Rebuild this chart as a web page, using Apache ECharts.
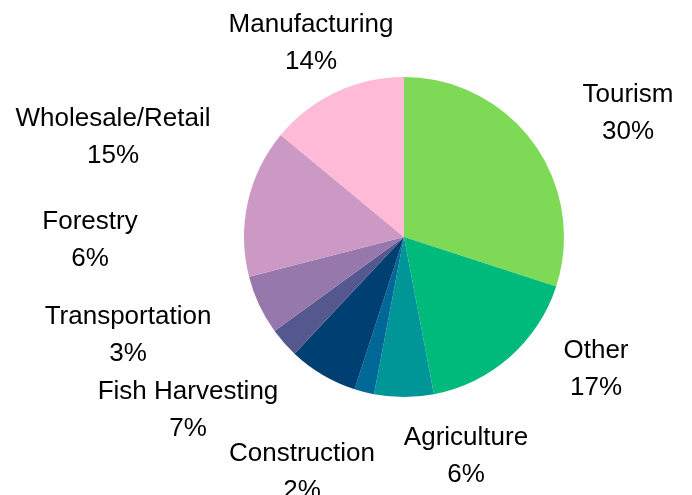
<!DOCTYPE html>
<html>
<head>
<meta charset="utf-8">
<script src="https://cdn.jsdelivr.net/npm/echarts@6/dist/echarts.min.js"></script>
<style>
html,body{margin:0;padding:0;background:#fff;}
#chart{width:692px;height:495px;}
</style>
</head>
<body>
<div id="chart"></div>
<script>
// Data
const categories = ["Tourism","Other","Agriculture","Construction","Fish Harvesting","Transportation","Forestry","Wholesale/Retail","Manufacturing"];
const shares = [30,17,6,2,7,3,6,15,14];

// Styles
const colors = ["#7ED957","#00BA7C","#009698","#006896","#003F72","#55588F","#9678AC","#CC99C5","#FFBAD8"];
// label box centres (text placement, not marks)
const labelCenters = [[628,113],[596,369],[466,456],[302,472],[188,410],[128,335],[90,240],[113,137],[311,43]];

const chart = echarts.init(document.getElementById('chart'), null, {renderer:'canvas'});
chart.setOption({
  animation:false,
  backgroundColor:'#ffffff',
  series:[{
    type:'pie',
    center:[404,237],
    radius:[0,160],
    startAngle:90,
    clockwise:true,
    avoidLabelOverlap:false,
    data:categories.map((c,i)=>({name:c,value:shares[i],itemStyle:{color:colors[i]}})),
    itemStyle:{borderWidth:0},
    label:{
      show:true,
      position:'outside',
      formatter:p=>p.name+'\n'+p.value+'%',
      fontFamily:'Liberation Sans, Arial, sans-serif',
      fontSize:26,
      lineHeight:37,
      color:'#000',
      align:'center'
    },
    labelLine:{show:false},
    labelLayout:function(params){
      const c = labelCenters[params.dataIndex];
      return {x:c[0], y:c[1], align:'center', verticalAlign:'middle', hideOverlap:false};
    },
    emphasis:{disabled:true}
  }]
});
</script>
</body>
</html>
